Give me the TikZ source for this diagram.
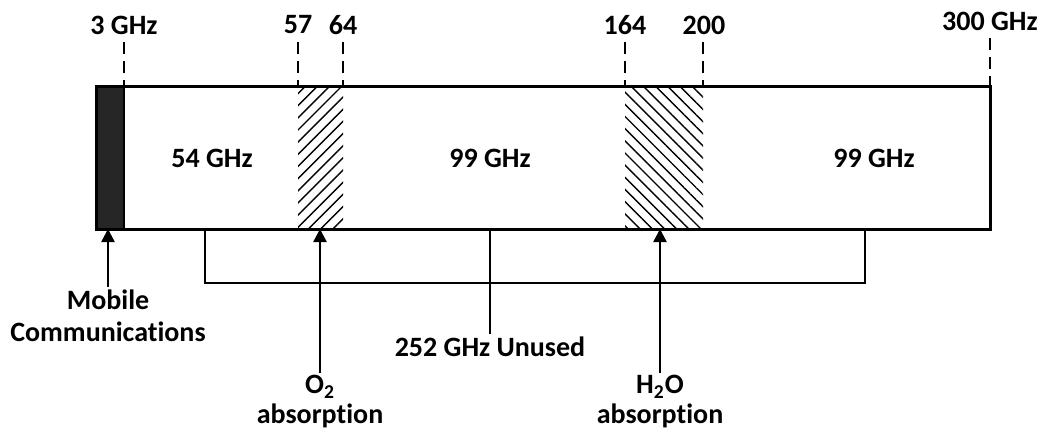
\documentclass[tikz,border=0pt]{standalone}
\usepackage{fontspec}
\setmainfont{Carlito}[Ligatures=NoCommon]
\usetikzlibrary{arrows.meta, patterns.meta}

\tikzset{
  lbl/.style={font=\fontsize{14}{16}\selectfont\bfseries, inner sep=1pt, align=center},
  tickline/.style={line width=1pt, dash pattern=on 6pt off 3.5pt},
  pointer/.style={line width=1.2pt, -{Triangle[length=6.5pt,width=6.5pt]}},
  bracket/.style={line width=1.3pt},
}

\begin{document}
\begin{tikzpicture}[x=0.5pt, y=-0.5pt]
\useasboundingbox (0,0) rectangle (1044,428);
% bar
\fill[pattern={Lines[angle=45,distance=4.3pt,line width=0.7pt]}] (298,86) rectangle (343,229);
\fill[pattern={Lines[angle=-45,distance=4.3pt,line width=0.7pt]}] (625,86) rectangle (703,229);
\fill[black!85] (96,86) rectangle (124,229);
\draw[line width=1pt] (124,86) -- (124,229);
\draw[line width=1.5pt] (96,86) rectangle (990,229);
% frequency marks
\node[lbl] (f3) at (124,25) {3 GHz};
\node[lbl] (f57) at (298,25) {57};
\node[lbl] (f64) at (343,25) {64};
\node[lbl] (f164) at (625,25) {164};
\node[lbl] (f200) at (704,25) {200};
\node[lbl] (f300) at (990,21) {300 GHz};
\foreach \x in {124,298,343,625,703}
  \draw[tickline] (\x,42) -- (\x,86);
\draw[tickline] (990,38) -- (990,86);
% bands
\node[lbl] (b54) at (212,158) {54 GHz};
\node[lbl] (b99a) at (490,158) {99 GHz};
\node[lbl] (b99b) at (874,158) {99 GHz};
% mobile
\coordinate (mobtip) at (108,229);
\node[lbl, anchor=north] (mob) at (108,287) {Mobile\\Communications};
\draw[pointer] (mob.north) -- (mobtip);
% unused
\coordinate (bl) at (205,229);
\coordinate (bm) at (490,229);
\coordinate (br) at (865,229);
\node[lbl, anchor=north] (unused) at (490,334) {252 GHz Unused};
\draw[bracket] (bl) -- ++(0,54) -| (br);
\draw[bracket] (bm) -- (unused.north);
% absorption
\coordinate (o2tip) at (320,229);
\coordinate (h2otip) at (660,229);
\node[lbl, anchor=north] (o2) at (320,373) {O\textsubscript{2}\\[-1pt]absorption};
\node[lbl, anchor=north] (h2o) at (660,373) {H\textsubscript{2}O\\[-1pt]absorption};
\draw[pointer] (o2.north) -- (o2tip);
\draw[pointer] (h2o.north) -- (h2otip);
\end{tikzpicture}
\end{document}
